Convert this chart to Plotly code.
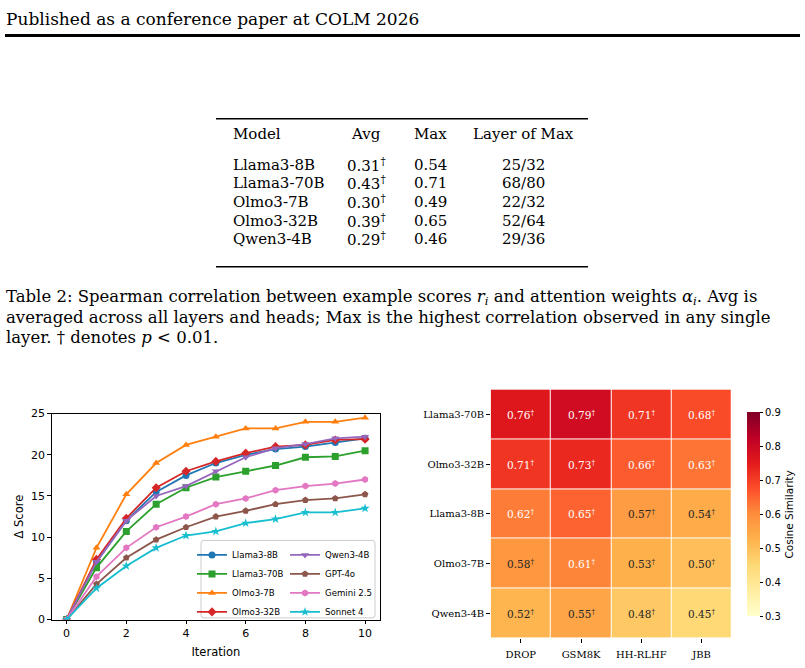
import plotly.graph_objects as go

W, H = 805, 668


def px(x):
    return x / W


def py(y):
    return 1 - y / H


# ---------------- data ----------------
iterations = list(range(11))
llama3_8b = [0, 7.0, 12.0, 15.5, 17.5, 19.0, 20.0, 20.7, 21.0, 21.5, 22.0]
llama3_70b = [0, 6.3, 10.7, 14.0, 16.0, 17.3, 18.0, 18.7, 19.7, 19.8, 20.5]
olmo3_7b = [0, 8.7, 15.2, 19.0, 21.2, 22.2, 23.2, 23.2, 24.0, 24.0, 24.5]
olmo3_32b = [0, 7.3, 12.3, 16.0, 18.0, 19.2, 20.2, 21.0, 21.2, 21.8, 21.9]
qwen3_4b = [0, 7.0, 12.0, 15.0, 16.2, 18.0, 19.7, 20.8, 21.3, 22.0, 22.2]
gpt_4o = [0, 4.3, 7.5, 9.7, 11.2, 12.5, 13.2, 14.0, 14.5, 14.7, 15.2]
gemini_25 = [0, 5.2, 8.7, 11.2, 12.5, 14.0, 14.7, 15.7, 16.2, 16.5, 17.0]
sonnet_4 = [0, 3.8, 6.5, 8.7, 10.2, 10.7, 11.7, 12.2, 13.0, 13.0, 13.5]
x_ticks = [0, 2, 4, 6, 8, 10]
y_ticks = [0, 5, 10, 15, 20, 25]

heat_models = ["Llama3-70B", "Olmo3-32B", "Llama3-8B", "Olmo3-7B", "Qwen3-4B"]
heat_datasets = ["DROP", "GSM8K", "HH-RLHF", "JBB"]
heat_llama3_70b = [0.76, 0.79, 0.71, 0.68]
heat_olmo3_32b = [0.71, 0.73, 0.66, 0.63]
heat_llama3_8b = [0.62, 0.65, 0.57, 0.54]
heat_olmo3_7b = [0.58, 0.61, 0.53, 0.50]
heat_qwen3_4b = [0.52, 0.55, 0.48, 0.45]
cbar_ticks = [0.3, 0.4, 0.5, 0.6, 0.7, 0.8, 0.9]

table_models = ["Llama3-8B", "Llama3-70B", "Olmo3-7B", "Olmo3-32B", "Qwen3-4B"]
table_avg = [0.31, 0.43, 0.30, 0.39, 0.29]
table_max = [0.54, 0.71, 0.49, 0.65, 0.46]
table_layer = ["25/32", "68/80", "22/32", "52/64", "29/36"]

# ---------------- styles ----------------
SANS = "DejaVu Sans"
SERIF = "DejaVu Serif"
TEXT_SERIF = "DejaVu Serif"

line_series = [
    ("Llama3-8B", llama3_8b, "#1f77b4", "circle", "legend"),
    ("Llama3-70B", llama3_70b, "#2ca02c", "square", "legend"),
    ("Olmo3-7B", olmo3_7b, "#ff7f0e", "triangle-up", "legend"),
    ("Olmo3-32B", olmo3_32b, "#d62728", "diamond", "legend"),
    ("Qwen3-4B", qwen3_4b, "#9467bd", "triangle-down", "legend2"),
    ("GPT-4o", gpt_4o, "#8c564b", "pentagon", "legend2"),
    ("Gemini 2.5", gemini_25, "#e377c2", "hexagon", "legend2"),
    ("Sonnet 4", sonnet_4, "#17becf", "star", "legend2"),
]

fig = go.Figure()

for name, vals, color, sym, leg in line_series:
    fig.add_trace(go.Scatter(
        x=iterations, y=vals, name=name, mode="lines+markers",
        line=dict(color=color, width=1.8),
        marker=dict(symbol=sym, size=7, color=color, line=dict(width=0)),
        xaxis="x", yaxis="y", legend=leg,
    ))

heat_z = [heat_llama3_70b, heat_olmo3_32b, heat_llama3_8b, heat_olmo3_7b, heat_qwen3_4b]
ylorrd = ["#ffffcc", "#ffeda0", "#fed976", "#feb24c", "#fd8d3c",
          "#fc4e2a", "#e31a1c", "#bd0026", "#800026"]
colorscale = [[i / (len(ylorrd) - 1), c] for i, c in enumerate(ylorrd)]

fig.add_trace(go.Heatmap(
    z=heat_z, x=heat_datasets, y=heat_models,
    colorscale=colorscale, zmin=0.3, zmax=0.9,
    xgap=1, ygap=1, xaxis="x2", yaxis="y2", showscale=True,
    hoverinfo="skip",
    colorbar=dict(
        x=px(746.5), xanchor="left", xpad=0, ypad=0,
        y=py(518.5), yanchor="middle", len=204, lenmode="pixels",
        thickness=13, outlinewidth=0,
        tickvals=cbar_ticks, ticktext=[f"{t:.1f}" for t in cbar_ticks],
        ticks="outside", ticklen=3.5, tickwidth=1, tickcolor="black",
        tickfont=dict(family=SANS, size=10, color="black"),
        title=dict(text="Cosine Similarity", side="right",
                   font=dict(family=SANS, size=10.5, color="black")),
    ),
))

annotations = []
shapes = []

# heatmap cell labels
for r, model in enumerate(heat_models):
    for c, ds in enumerate(heat_datasets):
        v = heat_z[r][c]
        annotations.append(dict(
            x=ds, y=model, xref="x2", yref="y2",
            text=f"{v:.2f}<sup>†</sup>", showarrow=False,
            font=dict(family=SERIF, size=10.5,
                      color="white" if v >= 0.6 else "#262626"),
        ))

# header
annotations.append(dict(
    x=px(4), y=py(13), xref="paper", yref="paper", xanchor="left", yanchor="middle",
    text="Published as a conference paper at COLM 2026", showarrow=False,
    font=dict(family=TEXT_SERIF, size=17, color="black"),
))
shapes.append(dict(type="line", xref="paper", yref="paper",
                   x0=px(5), x1=px(800), y0=py(30), y1=py(30),
                   line=dict(color="black", width=3)))

# table
tx_model, tx_avg, tx_max, tx_layer = 231, 366, 430, 523
row_y = [162, 181, 200, 219, 238]
tfont = dict(family=TEXT_SERIF, size=15, color="black")
for txt, x, anchor in [("Model", tx_model, "left"), ("Avg", tx_avg, "center"),
                       ("Max", tx_max, "center"), ("Layer of Max", tx_layer, "center")]:
    annotations.append(dict(x=px(x), y=py(131), xref="paper", yref="paper",
                            xanchor=anchor, yanchor="middle", text=txt,
                            showarrow=False, font=tfont))
for i, m in enumerate(table_models):
    yy = py(row_y[i])
    annotations.append(dict(x=px(tx_model), y=yy, xref="paper", yref="paper",
                            xanchor="left", yanchor="middle", text=m,
                            showarrow=False, font=tfont))
    annotations.append(dict(x=px(tx_avg), y=yy, xref="paper", yref="paper",
                            xanchor="center", yanchor="middle",
                            text=f"{table_avg[i]:.2f}<sup>†</sup>",
                            showarrow=False, font=tfont))
    annotations.append(dict(x=px(tx_max), y=yy, xref="paper", yref="paper",
                            xanchor="center", yanchor="middle",
                            text=f"{table_max[i]:.2f}",
                            showarrow=False, font=tfont))
    annotations.append(dict(x=px(tx_layer), y=yy, xref="paper", yref="paper",
                            xanchor="center", yanchor="middle",
                            text=table_layer[i],
                            showarrow=False, font=tfont))
for yv in (115, 266):
    shapes.append(dict(type="line", xref="paper", yref="paper",
                       x0=px(216), x1=px(588), y0=py(yv), y1=py(yv),
                       line=dict(color="black", width=1.6)))

# caption
caption_lines = [
    "Table 2: Spearman correlation between example scores <i>r<sub>i</sub></i> "
    "and attention weights <i>α<sub>i</sub></i>. Avg is",
    "averaged across all layers and heads; Max is the highest correlation "
    "observed in any single",
    "layer. † denotes <i>p</i> &lt; 0.01.",
]
for i, line in enumerate(caption_lines):
    annotations.append(dict(x=px(4), y=py(297 + 20.5 * i), xref="paper", yref="paper",
                            xanchor="left", yanchor="middle", text=line,
                            showarrow=False,
                            font=dict(family=TEXT_SERIF, size=16.5, color="black")))

# legend frame (rounded)
lx0, lx1, ly0, ly1, rr = 201, 375, 545, 624, 3
X0, X1 = px(lx0), px(lx1)
Y0, Y1 = py(ly1), py(ly0)
rx, ry = rr / W, rr / H
path = (f"M {X0+rx},{Y0} L {X1-rx},{Y0} Q {X1},{Y0} {X1},{Y0+ry} "
        f"L {X1},{Y1-ry} Q {X1},{Y1} {X1-rx},{Y1} L {X0+rx},{Y1} "
        f"Q {X0},{Y1} {X0},{Y1-ry} L {X0},{Y0+ry} Q {X0},{Y0} {X0+rx},{Y0} Z")
shapes.append(dict(type="path", xref="paper", yref="paper", path=path,
                   fillcolor="rgba(255,255,255,0.8)",
                   line=dict(color="#cccccc", width=1), layer="above"))

legend_common = dict(
    bgcolor="rgba(0,0,0,0)", borderwidth=0, orientation="v",
    font=dict(family=SANS, size=8.6, color="black"),
    itemwidth=30, tracegroupgap=0, yanchor="top", xanchor="left",
    itemclick=False, itemdoubleclick=False,
)

fig.update_layout(
    width=W, height=H,
    margin=dict(l=0, r=0, t=0, b=0),
    paper_bgcolor="white", plot_bgcolor="white",
    showlegend=True,
    legend=dict(x=px(192), y=py(545), **legend_common),
    legend2=dict(x=px(285), y=py(545), **legend_common),
    xaxis=dict(
        domain=[px(51.7), px(380)], anchor="y",
        range=[-0.5, 10.5], tickvals=x_ticks, ticks="outside", ticklen=3.5,
        tickcolor="black", showgrid=False, zeroline=False,
        showline=True, linecolor="black", linewidth=1, mirror=True,
        tickfont=dict(family=SANS, size=11, color="black"),
        title=dict(text="Iteration", standoff=8,
                   font=dict(family=SANS, size=11.5, color="black")),
    ),
    yaxis=dict(
        domain=[py(625.7), py(415.7)], anchor="x",
        range=[0, 25], tickvals=y_ticks, ticks="outside", ticklen=3.5,
        tickcolor="black", showgrid=False, zeroline=False,
        showline=True, linecolor="black", linewidth=1, mirror=True,
        tickfont=dict(family=SANS, size=11, color="black"),
        title=dict(text="Δ Score", standoff=4,
                   font=dict(family=SANS, size=11.5, color="black")),
    ),
    xaxis2=dict(
        domain=[px(490.7), px(731.7)], anchor="y2",
        ticks="outside", ticklen=3.5, tickcolor="black", showgrid=False,
        zeroline=False, showline=False, ticklabelstandoff=3,
        tickfont=dict(family=SERIF, size=10, color="black"),
    ),
    yaxis2=dict(
        domain=[py(645), py(391)], anchor="x2", autorange="reversed",
        ticks="outside", ticklen=3.5, tickcolor="black", showgrid=False,
        zeroline=False, showline=False,
        tickfont=dict(family=SERIF, size=10, color="black"),
    ),
    annotations=annotations,
    shapes=shapes,
)

fig.write_html("out.html", config={"displayModeBar": False},
               post_script="document.body.style.margin='0';")
